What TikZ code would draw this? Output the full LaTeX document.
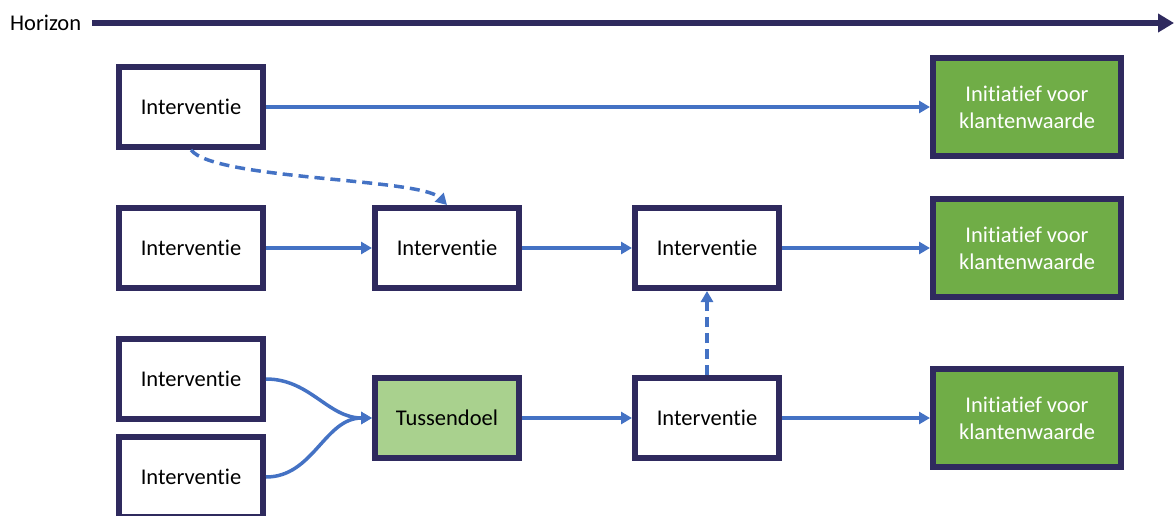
\documentclass[tikz,border=0pt]{standalone}
\usepackage{fontspec}
\setmainfont{Carlito}[Ligatures={NoCommon,NoContextual}]
\usetikzlibrary{arrows.meta}
\definecolor{navy}{HTML}{2F2A5E}
\definecolor{linkblue}{HTML}{4472C4}
\definecolor{darkgreen}{HTML}{70AD47}
\definecolor{lightgreen}{HTML}{A9D18E}
\tikzstyle{stepbox}=[draw=navy, line width=6pt, fill=white, minimum width=144pt, minimum height=80pt, font=\fontsize{22.5}{26}\selectfont, inner sep=0pt]
\tikzstyle{goalbox}=[stepbox, fill=darkgreen, text=white, minimum width=188pt, minimum height=98pt, align=center, font=\fontsize{22.5}{27}\selectfont]
\tikzstyle{link}=[draw=linkblue, line width=3.5pt, -{Triangle[length=11pt,width=12pt]}]

\begin{document}
\begin{tikzpicture}[x=1pt, y=-1pt]
\useasboundingbox (0,0) rectangle (1174,516);
% Horizon
    \node[anchor=west, inner sep=0pt, font=\fontsize{22.5}{26}\selectfont] (horizon) at (10,23) {Horizon};
    \coordinate (hstart) at (92,23);
    \coordinate (hend) at (1174,23);
    \draw[navy, line width=5.5pt, -{Triangle[length=16pt,width=18pt]}] (hstart) -- (hend);
% Boxes
    \node[stepbox] (a1) at (191,107) {Interventie};
    \node[stepbox] (b1) at (191,248) {Interventie};
    \node[stepbox] (b2) at (447,248) {Interventie};
    \node[stepbox] (b3) at (707,248) {Interventie};
    \node[stepbox] (c1) at (191,379) {Interventie};
    \node[stepbox] (d1) at (191,477) {Interventie};
    \node[stepbox, fill=lightgreen] (c2) at (447,418) {Tussendoel};
    \node[stepbox] (c3) at (707,418) {Interventie};
    \node[goalbox] (ga) at (1027,107) {Initiatief voor\\klantenwaarde};
    \node[goalbox] (gb) at (1027,248) {Initiatief voor\\klantenwaarde};
    \node[goalbox] (gc) at (1027,418) {Initiatief voor\\klantenwaarde};
% Links
    \draw[link] (a1.east) -- (ga.west);
    \draw[link] (b1.east) -- (b2.west);
    \draw[link] (b2.east) -- (b3.west);
    \draw[link] (b3.east) -- (gb.west);
    \draw[link] (c1.east) to[out=0, in=180] (c2.west);
    \draw[link] (d1.east) to[out=0, in=180] (c2.west);
    \draw[link] (c2.east) -- (c3.west);
    \draw[link] (c3.east) -- (gc.west);
% Dashed links
    \draw[link, dash pattern=on 10pt off 6pt] (a1.south) .. controls (215,180) and (420,178) .. (b2.north);
    \draw[link, dash pattern=on 10pt off 6pt] (c3.north) -- (b3.south);
\end{tikzpicture}
\end{document}
